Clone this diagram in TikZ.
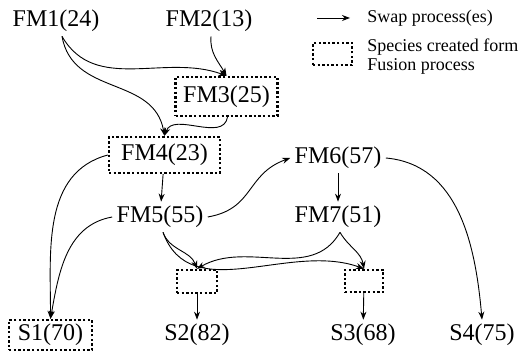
\documentclass[tikz,border=0pt]{standalone}
\usepackage{fontspec}
\setmainfont{Liberation Serif}
\newfontfamily\diagfont{Liberation Serif}
\usepackage{tikz}
\usetikzlibrary{arrows.meta,positioning}

\begin{document}
\begin{tikzpicture}[x=0.5pt,y=0.5pt,
		>={Stealth[length=4pt,width=3pt]},
		every path/.style={line width=0.45pt},
		species/.style={font=\diagfont\fontsize{12}{14}\selectfont, inner sep=2pt},
		fusion/.style={draw, line width=1.2pt, dash pattern=on 1.2pt off 1.1pt, line cap=butt},
		fusionbox/.style={species, fusion, minimum width=#1, inner sep=0pt},
		legendtext/.style={font=\diagfont\fontsize{9}{11}\selectfont, anchor=west, inner sep=0pt}]
			\useasboundingbox (0,0) rectangle (528,351);
			% Species nodes
			\node[species] (fm1) at (56,330) {FM1(24)};
			\node[species] (fm2) at (209,330) {FM2(13)};
			\node[fusionbox=51pt, minimum height=19.5pt] (fm3) at (226.5,254.5) {FM3(25)};
			\node[fusionbox=55.5pt, minimum height=18pt] (fm4) at (164.5,196) {FM4(23)};
			\node[species] (fm5) at (160,134) {FM5(55)};
			\node[species] (fm6) at (338,193) {FM6(57)};
			\node[species] (fm7) at (338,134) {FM7(51)};
			% Unnamed fusion products
			\node[fusion, minimum width=20pt, minimum height=11.5pt] (f1) at (197,69.5) {};
			\node[fusion, minimum width=19pt, minimum height=11pt] (f2) at (364,70) {};
			% Final species
			\node[fusionbox=41.5pt, minimum height=15pt] (s1) at (50.5,16) {S1(70)};
			\node[species] (s2) at (197,16) {S2(82)};
			\node[species] (s3) at (363,16) {S3(68)};
			\node[species] (s4) at (482,16) {S4(75)};
			% Legend
			\coordinate (la) at (317,333);
			\coordinate (lb) at (350,333);
			\draw[->] (la) -- (lb);
			\node[legendtext] (lswap) at (367,333) {Swap process(es)};
			\node[fusion, minimum width=19.5pt, minimum height=11pt] (lbox) at (332.5,297) {};
			\node[legendtext] (lfus1) at (367,304) {Species created form};
			\node[legendtext] (lfus2) at (367,285) {Fusion process};
			% Swaps into FM3 and FM4
			\draw[->] ([xshift=3pt]fm1.south) to[out=-60,in=160] (fm3.north);
			\draw[->] ([xshift=1pt]fm2.south) to[out=-95,in=120] (fm3.north);
			\draw[->] ([xshift=3pt]fm1.south) to[out=-80,in=100,looseness=1.1] (fm4.north);
			\draw[->] ([xshift=0.5pt]fm3.south) to[out=-100,in=70] (fm4.north);
			\draw[->] (fm4) -- (fm5);
			% Into S1
			\draw[->] (fm4.west) to[out=195,in=90] (s1.north);
			\draw[->] (fm5.west) to[out=190,in=80] (s1.north);
			% FM5 to FM6 and on
			\draw[->] (fm5.east) to[out=10,in=200,looseness=1.2] (fm6.west);
			\draw[->] (fm6) -- (fm7);
			\draw[->] (fm6.east) to[out=-5,in=95] (s4.north);
			% Fusions of FM5 and FM7
			\draw[->] ([xshift=1.5pt]fm5.south) to[out=-70,in=110] (f1.north);
			\draw[->] ([xshift=1.5pt]fm5.south) to[out=-70,in=160] (f2.north);
			\draw[->] ([xshift=1pt]fm7.south) to[out=-120,in=30] (f1.north);
			\draw[->] ([xshift=1pt]fm7.south) to[out=-60,in=100] (f2.north);
			\draw[->] (f1) -- (s2);
			\draw[->] (f2) -- (s3);
		\end{tikzpicture}
\end{document}
